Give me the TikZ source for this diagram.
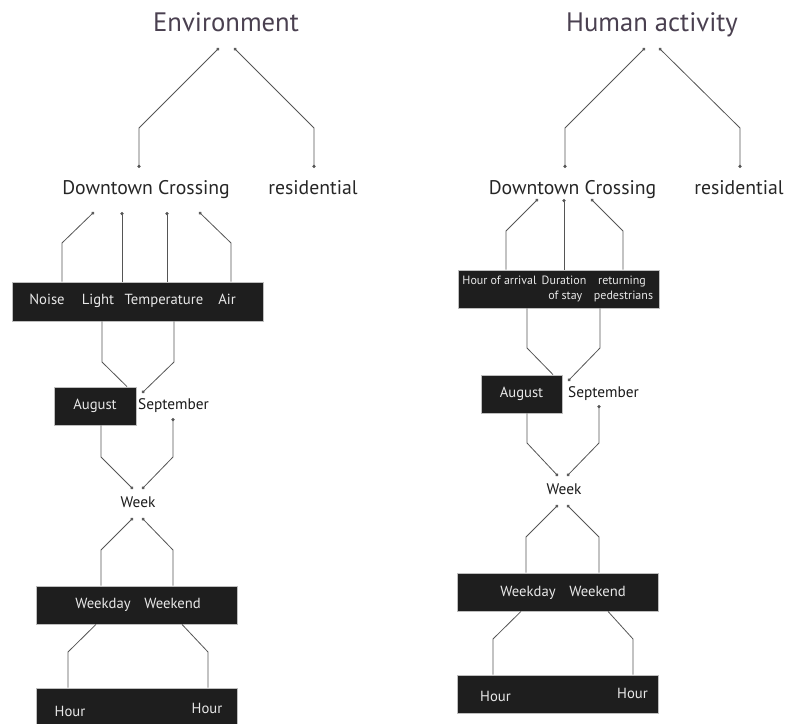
\documentclass[tikz,border=0pt]{standalone}
\usepackage{fontspec}
\setmainfont{PT Sans}
\usepackage{tikz}
\usetikzlibrary{arrows.meta}

\definecolor{titlecol}{RGB}{74,64,80}
\definecolor{boxfill}{RGB}{30,30,30}
\definecolor{boxedge}{RGB}{190,190,190}
\definecolor{boxtext}{RGB}{232,232,232}
\definecolor{linecol}{RGB}{85,85,85}

\tikzset{
  conn/.style={draw=linecol, line width=0.6pt},
  dotstart/.style={{Circle[length=2.4pt]}-},
  dotend/.style={-{Circle[length=2.4pt]}},
  dotboth/.style={{Circle[length=2.4pt]}-{Circle[length=2.4pt]}},
  title/.style={anchor=base, text=titlecol, font=\fontsize{20}{24}\selectfont},
  leaf/.style={anchor=base, text=black!85, font=\fontsize{14.8}{18}\selectfont},
  plain/.style={anchor=base, text=black!90, font=\fontsize{11.5}{14}\selectfont},
  darkbox/.style={fill=boxfill, draw=boxedge, line width=0.6pt, inner sep=0pt},
  boxtext/.style={anchor=base, text=boxtext, font=\fontsize{11}{13}\selectfont},
  smalltext/.style={anchor=base, text=boxtext, font=\fontsize{9}{11}\selectfont},
}

\begin{document}
\begin{tikzpicture}[x=0.75pt, y=-0.75pt]
  \useasboundingbox (0,0) rectangle (786,724);

  %% Environment tree
  \node[title] (env) at (226,32) {Environment};
  \node[leaf] (dtcE) at (146,195) {Downtown Crossing};
  \node[leaf] (resE) at (313,195) {residential};

  % dark boxes
  \node[darkbox, minimum width=251*0.75pt, minimum height=39*0.75pt] (envbox) at (137.5,301.5) {};
  \node[darkbox, minimum width=82*0.75pt, minimum height=38*0.75pt] (augE) at (95,406) {};
  \node[darkbox, minimum width=201*0.75pt, minimum height=38*0.75pt] (dayE) at (136.5,605) {};
  \node[darkbox, minimum width=201*0.75pt, minimum height=38*0.75pt] (hourE) at (136.5,707) {};

  % box labels
  \node[boxtext] (noise) at (47,304) {Noise};
  \node[boxtext] (light) at (98,304) {Light};
  \node[boxtext] (temp) at (164,304) {Temperature};
  \node[boxtext] (air) at (227,304) {Air};
  \node[boxtext] (augEt) at (95,409) {August};
  \node[plain] (sepE) at (173.5,409) {September};
  \node[plain] (weekE) at (138,507) {Week};
  \node[boxtext] (wdayE) at (103,608) {Weekday};
  \node[boxtext] (wendE) at (172.5,608) {Weekend};
  \node[boxtext] (hourE-l) at (70,716) {Hour};
  \node[boxtext] (hourE-r) at (207,713) {Hour};

  % line ends
  \coordinate (envT-l) at (219,48);
  \coordinate (envT-r) at (234,48);
  \coordinate (dtcE-t) at (139,168);
  \coordinate (resE-t) at (314,168);
  \coordinate (dtcE-1) at (94,212);
  \coordinate (dtcE-2) at (122,212);
  \coordinate (dtcE-3) at (167,212);
  \coordinate (dtcE-4) at (199,212);
  \coordinate (sepE-t) at (142,393);
  \coordinate (sepE-b) at (173,418);
  \coordinate (weekE-1) at (133,489);
  \coordinate (weekE-2) at (142,489);
  \coordinate (weekE-3) at (133,518);
  \coordinate (weekE-4) at (142,518);

  % connectors
  \draw[conn, dotboth] (envT-l) -- (139,128) -- (dtcE-t);
  \draw[conn, dotboth] (envT-r) -- (314,128) -- (resE-t);
  \draw[conn, dotstart] (dtcE-1) -- (62,243) -- (62,243 |- envbox.north);
  \draw[conn, dotstart] (dtcE-2) -- (dtcE-2 |- envbox.north);
  \draw[conn, dotstart] (dtcE-3) -- (dtcE-3 |- envbox.north);
  \draw[conn, dotstart] (dtcE-4) -- (231,243) -- (231,243 |- envbox.north);
  \draw[conn] (102,362 |- envbox.south) -- (102,362) -- (127,362 |- augE.north);
  \draw[conn, dotend] (174,362 |- envbox.south) -- (174,362) -- (sepE-t);
  \draw[conn, dotend] (101,457 |- augE.south) -- (101,457) -- (weekE-1);
  \draw[conn, dotboth] (sepE-b) -- (173,457) -- (weekE-2);
  \draw[conn, dotstart] (weekE-3) -- (101,550) -- (101,550 |- dayE.north);
  \draw[conn, dotstart] (weekE-4) -- (173,550) -- (173,550 |- dayE.north);
  \draw[conn] (96,652 |- dayE.south) -- (68,652) -- (68,652 |- hourE.north);
  \draw[conn] (182,652 |- dayE.south) -- (208,652) -- (208,652 |- hourE.north);

  %% Human activity tree
  \node[title] (hum) at (652,32) {Human activity};
  \node[leaf] (dtcH) at (572.5,194) {Downtown Crossing};
  \node[leaf] (resH) at (739,194) {residential};

  % dark boxes
  \node[darkbox, minimum width=201*0.75pt, minimum height=38*0.75pt] (humbox) at (558.5,289) {};
  \node[darkbox, minimum width=81*0.75pt, minimum height=38*0.75pt] (augH) at (521.5,394) {};
  \node[darkbox, minimum width=201*0.75pt, minimum height=38*0.75pt] (dayH) at (557.5,592) {};
  \node[darkbox, minimum width=201*0.75pt, minimum height=38*0.75pt] (hourH) at (557.5,694) {};

  % box labels
  \node[smalltext] (arrival) at (499.5,284) {Hour of arrival};
  \node[smalltext] (stay) at (564,284) {Duration};
  \node[smalltext, anchor=base east] (stay2) at (587,299) {of stay};
  \node[smalltext] (retn) at (622,284) {returning};
  \node[smalltext] (peds) at (623.5,299) {pedestrians};
  \node[boxtext] (augHt) at (521.5,397) {August};
  \node[plain] (sepH) at (603.5,397) {September};
  \node[plain] (weekH) at (564,494) {Week};
  \node[boxtext] (wdayH) at (528,596) {Weekday};
  \node[boxtext] (wendH) at (597.5,596) {Weekend};
  \node[boxtext] (hourH-l) at (495.5,701) {Hour};
  \node[boxtext] (hourH-r) at (632.5,698) {Hour};

  % line ends
  \coordinate (humT-l) at (645,48);
  \coordinate (humT-r) at (659,48);
  \coordinate (dtcH-t) at (565,168);
  \coordinate (resH-t) at (740,168);
  \coordinate (dtcH-1) at (538,199);
  \coordinate (dtcH-2) at (564,199);
  \coordinate (dtcH-3) at (591,199);
  \coordinate (sepH-t) at (568,381);
  \coordinate (sepH-b) at (599,405);
  \coordinate (weekH-1) at (558,476);
  \coordinate (weekH-2) at (567,476);
  \coordinate (weekH-3) at (558,505);
  \coordinate (weekH-4) at (567,505);

  % connectors
  \draw[conn, dotboth] (humT-l) -- (565,128) -- (dtcH-t);
  \draw[conn, dotboth] (humT-r) -- (740,128) -- (resH-t);
  \draw[conn, dotstart] (dtcH-1) -- (506,231) -- (506,231 |- humbox.north);
  \draw[conn, dotstart] (dtcH-2) -- (dtcH-2 |- humbox.north);
  \draw[conn, dotstart] (dtcH-3) -- (623,231) -- (623,231 |- humbox.north);
  \draw[conn] (527,348 |- humbox.south) -- (527,348) -- (553,348 |- augH.north);
  \draw[conn, dotend] (600,348 |- humbox.south) -- (600,348) -- (sepH-t);
  \draw[conn, dotend] (527,443 |- augH.south) -- (527,443) -- (weekH-1);
  \draw[conn, dotboth] (sepH-b) -- (599,443) -- (weekH-2);
  \draw[conn, dotstart] (weekH-3) -- (526,537) -- (526,537 |- dayH.north);
  \draw[conn, dotstart] (weekH-4) -- (599,537) -- (599,537 |- dayH.north);
  \draw[conn] (521,639 |- dayH.south) -- (493,639) -- (493,639 |- hourH.north);
  \draw[conn] (608,639 |- dayH.south) -- (633,639) -- (633,639 |- hourH.north);
\end{tikzpicture}
\end{document}
